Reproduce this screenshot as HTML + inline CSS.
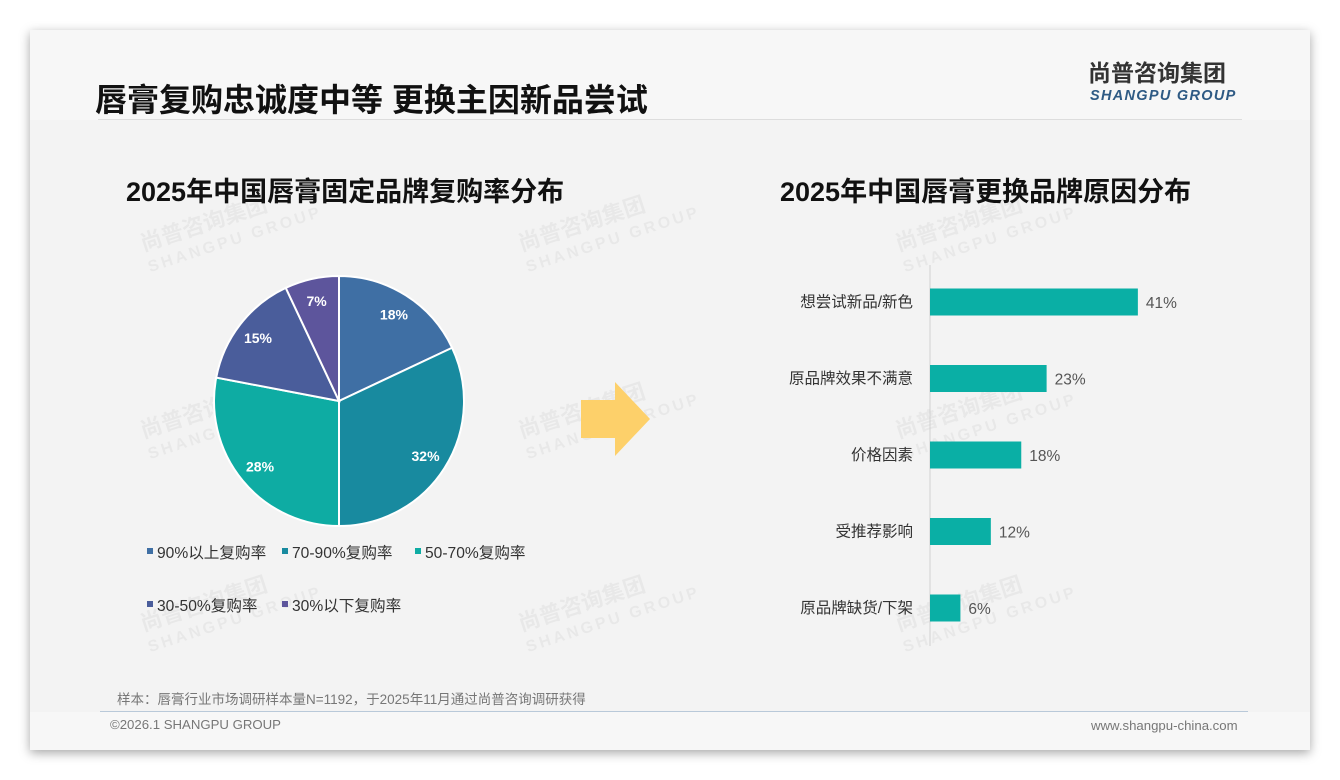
<!DOCTYPE html>
<html><head><meta charset="utf-8">
<style>
body{margin:0;width:1340px;height:780px;background:#fff;position:relative;overflow:hidden;font-family:"Liberation Sans","Noto Sans CJK SC",sans-serif;}
#card{position:absolute;left:30px;top:30px;width:1280px;height:720px;background:#f3f3f3;box-shadow:0 3px 10px rgba(0,0,0,0.35);}
.abs{position:absolute;white-space:nowrap;}
.wm{position:absolute;color:rgba(0,0,0,0.045);font-weight:bold;transform:rotate(-18deg);line-height:1;}
</style></head><body>
<div id="card">
 <div class="abs" style="left:0;top:0;width:1280px;height:90px;background:#f7f7f7;"></div>
 <div class="abs" style="left:0;top:682px;width:1280px;height:38px;background:#f7f7f7;"></div>
</div>
<div class="abs" style="left:95px;top:75px;font-size:32px;font-weight:bold;color:#111;">唇膏复购忠诚度中等 更换主因新品尝试</div>
<div class="abs" style="left:98px;top:119px;width:1144px;height:1px;background:#ddd;"></div>
<div class="abs" style="left:1088px;top:58px;font-size:23px;line-height:30px;font-weight:bold;color:#333;">尚普咨询集团</div>
<div class="abs" style="left:1090px;top:88px;font-size:14.5px;line-height:16px;font-weight:bold;font-style:italic;color:#2e5a84;letter-spacing:1.3px;">SHANGPU GROUP</div>

<div>
<div class="wm" style="left:140px;top:205px;font-size:22px">尚普咨询集团<br><span style="font-size:16px;letter-spacing:3px">SHANGPU GROUP</span></div>
<div class="wm" style="left:518px;top:205px;font-size:22px">尚普咨询集团<br><span style="font-size:16px;letter-spacing:3px">SHANGPU GROUP</span></div>
<div class="wm" style="left:895px;top:205px;font-size:22px">尚普咨询集团<br><span style="font-size:16px;letter-spacing:3px">SHANGPU GROUP</span></div>
<div class="wm" style="left:140px;top:392px;font-size:22px">尚普咨询集团<br><span style="font-size:16px;letter-spacing:3px">SHANGPU GROUP</span></div>
<div class="wm" style="left:518px;top:392px;font-size:22px">尚普咨询集团<br><span style="font-size:16px;letter-spacing:3px">SHANGPU GROUP</span></div>
<div class="wm" style="left:895px;top:392px;font-size:22px">尚普咨询集团<br><span style="font-size:16px;letter-spacing:3px">SHANGPU GROUP</span></div>
<div class="wm" style="left:140px;top:585px;font-size:22px">尚普咨询集团<br><span style="font-size:16px;letter-spacing:3px">SHANGPU GROUP</span></div>
<div class="wm" style="left:518px;top:585px;font-size:22px">尚普咨询集团<br><span style="font-size:16px;letter-spacing:3px">SHANGPU GROUP</span></div>
<div class="wm" style="left:895px;top:585px;font-size:22px">尚普咨询集团<br><span style="font-size:16px;letter-spacing:3px">SHANGPU GROUP</span></div>
</div>

<div class="abs" style="left:126px;top:170px;font-size:27px;font-weight:bold;color:#111;">2025年中国唇膏固定品牌复购率分布</div>
<div class="abs" style="left:780px;top:170px;font-size:27px;font-weight:bold;color:#111;">2025年中国唇膏更换品牌原因分布</div>

<svg class="abs" style="left:0;top:0" width="1340" height="780">
 <g id="pie"></g>
 <g id="legend"></g>
 <polygon points="581,400 615,400 615,382 650,419 615,456 615,438 581,438" fill="#fdd06a"/>
 <g id="bars"></g>
</svg>

<div class="abs" style="left:117px;top:688px;font-size:13.5px;color:#777;">样本：唇膏行业市场调研样本量N=1192，于2025年11月通过尚普咨询调研获得</div>
<div class="abs" style="left:100px;top:711px;width:1148px;height:1px;background:#b9c9d9;"></div>
<div class="abs" style="left:110px;top:717px;font-size:13.2px;color:#777;">©2026.1 SHANGPU GROUP</div>
<div class="abs" style="left:1091px;top:718px;font-size:13.2px;color:#777;">www.shangpu-china.com</div>

<script>
const pieCategories=["90%以上复购率","70-90%复购率","50-70%复购率","30-50%复购率","30%以下复购率"];
const pieValues=[18,32,28,15,7];
const pieColors=["#3f6fa4","#188a9f","#0eaca3","#4a5d9b","#5d559c"];
const barCategories=["想尝试新品/新色","原品牌效果不满意","价格因素","受推荐影响","原品牌缺货/下架"];
const barValues=[41,23,18,12,6];
const NS="http://www.w3.org/2000/svg";
function mk(t,a,p){const e=document.createElementNS(NS,t);for(const k in a)e.setAttribute(k,a[k]);p.appendChild(e);return e;}
const pie=document.getElementById('pie');
const cx=339,cy=401,r=125;
const total=pieValues.reduce((a,b)=>a+b,0);
let ang=-Math.PI/2;
pieValues.forEach((v,i)=>{
 const a2=ang+v/total*2*Math.PI;
 const x1=cx+r*Math.cos(ang),y1=cy+r*Math.sin(ang),x2=cx+r*Math.cos(a2),y2=cy+r*Math.sin(a2);
 const p=mk('path',{d:`M${cx},${cy}L${x1},${y1}A${r},${r} 0 ${a2-ang>Math.PI?1:0} 1 ${x2},${y2}Z`,fill:pieColors[i],stroke:'#fff','stroke-width':2},pie);
 
 
 const m=(ang+a2)/2,lr=r*0.82;
 const t=mk('text',{x:cx+lr*Math.cos(m),y:cy+lr*Math.sin(m)+5,'text-anchor':'middle','font-size':14,'font-weight':'bold',fill:'#fff'},pie);
 t.textContent=v+'%';
 
 
 ang=a2;
});
const lg=document.getElementById('legend');
const lpos=[[147,553],[282,553],[415,553],[147,606],[282,606]];
pieCategories.forEach((c,i)=>{
 const [x,y]=lpos[i];
 const s=mk('rect',{x:x,y:y-5,width:6,height:6,fill:pieColors[i]},lg);
 
 
 const t=mk('text',{x:x+10,y:y+5,'font-size':15.6,fill:'#333'},lg);
 t.textContent=c;
 
 
});
const bg=document.getElementById('bars');
const x0=930,scale=5.07,y0=302,step=76.5,bh=27;
const ax=mk('line',{x1:x0,y1:265,x2:x0,y2:646,stroke:'#d0d0d0','stroke-width':1},bg);


barValues.forEach((v,i)=>{
 const yc=y0+i*step;
 const b=mk('rect',{x:x0,y:yc-bh/2,width:v*scale,height:bh,fill:'#0aafa5'},bg);
 
 
 const l=mk('text',{x:x0-17,y:yc+5,'text-anchor':'end','font-size':15.5,fill:'#333'},bg);
 l.textContent=barCategories[i];
 
 
 const vt=mk('text',{x:x0+v*scale+8,y:yc+6,'font-size':15.5,fill:'#555'},bg);
 vt.textContent=v+'%';
 
 
});
</script>
</body></html>
